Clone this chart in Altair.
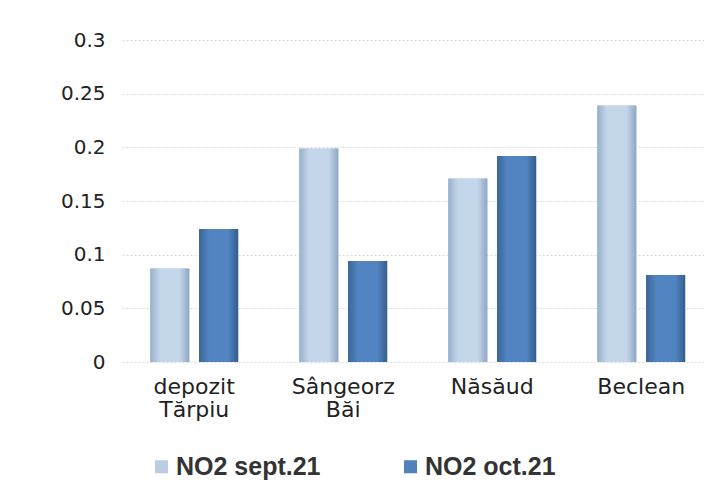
import altair as alt
import pandas as pd

categories = ["depozit\nTărpiu", "Sângeorz\nBăi", "Năsăud", "Beclean"]
series = ["NO2 sept.21", "NO2 oct.21"]
sept_values = [0.087, 0.199, 0.171, 0.239]
oct_values = [0.124, 0.094, 0.192, 0.081]

rows = []
for c, v in zip(categories, sept_values):
    rows.append({"loc": c, "serie": series[0], "val": v})
for c, v in zip(categories, oct_values):
    rows.append({"loc": c, "serie": series[1], "val": v})
df = pd.DataFrame(rows)

light = "#b9cde5"
dark = "#4f81bd"

x = alt.X("loc:N", sort=categories, title=None,
          scale=alt.Scale(paddingInner=0.41, paddingOuter=0.158, align=0.6),
          axis=alt.Axis(labelExpr="split(datum.label, '\\n')", labelAngle=0,
                        labelFont="DejaVu Sans", labelFontSize=22, labelColor="#222",
                        labelPadding=14, labelLineHeight=23, domain=False, ticks=False,
                        grid=False))
xo = alt.XOffset("serie:N", sort=series, scale=alt.Scale(domain=series, paddingInner=0.2))
y = alt.Y("val:Q", title=None,
          scale=alt.Scale(domain=[0, 0.3]),
          axis=alt.Axis(values=[0, 0.05, 0.1, 0.15, 0.2, 0.25, 0.3], format="~g",
                        labelFont="DejaVu Sans", labelFontSize=20, labelColor="#222",
                        labelPadding=17, domain=False, ticks=False,
                        grid=True, gridColor="#d8d8d8", gridDash=[2, 2], gridWidth=1))

base = alt.Chart(df).mark_bar().encode(
    x=x, xOffset=xo, y=y,
    color=alt.Color("serie:N", sort=series,
                    scale=alt.Scale(domain=series, range=[light, dark]),
                    legend=alt.Legend(title=None, orient="none", direction="horizontal",
                                      legendX=27, legendY=414,
                                      symbolType="square", symbolSize=170,
                                      symbolStrokeWidth=0, labelOffset=2,
                                      columnPadding=77,
                                      labelFont="Liberation Sans", labelFontWeight="bold",
                                      labelFontSize=25, labelColor="#333")),
)

grad_light = {"gradient": "linear", "x1": 0, "x2": 1, "y1": 0, "y2": 0,
              "stops": [{"offset": 0, "color": "#98b0cc"},
                        {"offset": 0.25, "color": "#c4d6ea"},
                        {"offset": 0.75, "color": "#c4d6ea"},
                        {"offset": 1, "color": "#8ea6c2"}]}
grad_dark = {"gradient": "linear", "x1": 0, "x2": 1, "y1": 0, "y2": 0,
             "stops": [{"offset": 0, "color": "#3b6598"},
                       {"offset": 0.25, "color": "#5184c0"},
                       {"offset": 0.75, "color": "#5184c0"},
                       {"offset": 1, "color": "#355d8e"}]}

g1 = alt.Chart(df).transform_filter(alt.datum.serie == series[0]).mark_bar(fill=grad_light).encode(
    x=x, xOffset=xo, y=y)
g2 = alt.Chart(df).transform_filter(alt.datum.serie == series[1]).mark_bar(fill=grad_dark).encode(
    x=x, xOffset=xo, y=y)

chart = alt.layer(base, g1, g2).properties(
    width=582, height=322,
    autosize=alt.AutoSizeParams(type="none"),
    padding={"left": 114, "top": 32, "right": 0, "bottom": 126},
    background="white",
).configure_view(stroke=None)

chart.save("out.html", embed_options={"renderer": "svg", "actions": False})
